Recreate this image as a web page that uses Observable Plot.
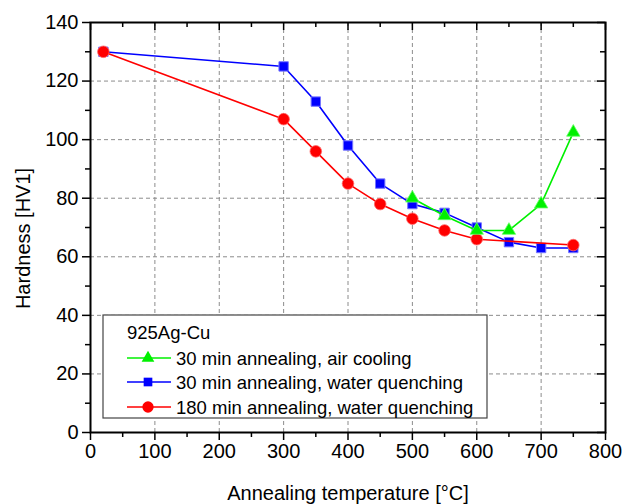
<!DOCTYPE html>
<html>
<head>
<meta charset="utf-8">
<script src="https://cdn.jsdelivr.net/npm/d3@7"></script>
<script src="https://cdn.jsdelivr.net/npm/@observablehq/plot@0.6"></script>
<style>
  html, body { margin: 0; padding: 0; background: white; }
  #chart { width: 625px; height: 504px; }
</style>
</head>
<body>
<div id="chart"></div>
<script>
// ---- data ----
const blueX = [20, 300, 350, 400, 450, 500, 550, 600, 650, 700, 750];
const blueY = [130, 125, 113, 98, 85, 78, 75, 70, 65, 63, 63];
const redX = [20, 300, 350, 400, 450, 500, 550, 600, 750];
const redY = [130, 107, 96, 85, 78, 73, 69, 66, 64];
const greenX = [500, 550, 600, 650, 700, 750];
const greenY = [80, 74, 69, 69, 78, 102.5];

const seriesNames = [
  "30 min annealing, air cooling",
  "30 min annealing, water quenching",
  "180 min annealing, water quenching"
];
const legendTitle = "925Ag-Cu";
const xTitle = "Annealing temperature [°C]";
const yTitle = "Hardness [HV1]";

const xMajor = [0, 100, 200, 300, 400, 500, 600, 700, 800];
const xMinor = [50, 150, 250, 350, 450, 550, 650, 750];
const yMajor = [0, 20, 40, 60, 80, 100, 120, 140];
const yMinor = [10, 30, 50, 70, 90, 110, 130];
const xGrid = [100, 200, 300, 400, 500, 600, 700];
const yGrid = [20, 40, 60, 80, 100, 120];

const toRows = (xs, ys) => xs.map((x, i) => ({x, y: ys[i]}));
const blue = toRows(blueX, blueY);
const red = toRows(redX, redY);
const green = toRows(greenX, greenY);

const W = 625, H = 504, mL = 90, mR = 20, mT = 22, mB = 72;
const fw = W - mL - mR, fh = H - mT - mB;

const GREEN = "#00f000", BLUE = "#0000ff", RED = "#ff0000";
const font = "'Liberation Sans', Arial, sans-serif";

const svg = Plot.plot({
  width: W, height: H,
  marginLeft: mL, marginRight: mR, marginTop: mT, marginBottom: mB,
  x: {domain: [0, 800]},
  y: {domain: [0, 140]},
  style: {fontFamily: font, fontSize: "20px", background: "white", color: "black"},
  marks: [
    Plot.gridX(xGrid, {stroke: "#8c8c8c", strokeOpacity: 1, strokeDasharray: "4,3", strokeWidth: 1}),
    Plot.gridY(yGrid, {stroke: "#8c8c8c", strokeOpacity: 1, strokeDasharray: "4,3", strokeWidth: 1}),
    // bottom / left axes (outward ticks)
    Plot.axisX(xMajor, {tickSize: 8, tickPadding: 3, fontSize: 20, label: null, strokeWidth: 1.5}),
    Plot.axisX(xMinor, {tickSize: 5, tickFormat: () => "", label: null, strokeWidth: 1.5}),
    Plot.axisY(yMajor, {tickSize: 8, tickPadding: 4, fontSize: 20, label: null, strokeWidth: 1.5}),
    Plot.axisY(yMinor, {tickSize: 5, tickFormat: () => "", label: null, strokeWidth: 1.5}),
    // top / right mirrored ticks (inward)
    Plot.tickX(xMajor, {x: d => d, insetBottom: fh - 8, stroke: "black", strokeWidth: 1.5}),
    Plot.tickX(xMinor, {x: d => d, insetBottom: fh - 5, stroke: "black", strokeWidth: 1.5}),
    Plot.tickY(yMajor, {y: d => d, insetLeft: fw - 8, stroke: "black", strokeWidth: 1.5}),
    Plot.tickY(yMinor, {y: d => d, insetLeft: fw - 5, stroke: "black", strokeWidth: 1.5}),
    // series
    Plot.line(blue, {x: "x", y: "y", stroke: BLUE, strokeWidth: 1.6}),
    Plot.dot(blue, {x: "x", y: "y", symbol: "square", r: 5.3, fill: BLUE, stroke: "#7777ff", strokeWidth: 1}),
    Plot.line(red, {x: "x", y: "y", stroke: RED, strokeWidth: 1.6}),
    Plot.dot(red, {x: "x", y: "y", r: 5.8, fill: RED, stroke: "#ff6666", strokeWidth: 0.8}),
    Plot.line(green, {x: "x", y: "y", stroke: GREEN, strokeWidth: 1.6}),
    Plot.dot(green, {x: "x", y: "y", symbol: "triangle", r: 5.0, fill: GREEN, stroke: "#66ff66", strokeWidth: 0.8}),
    Plot.frame({stroke: "black", strokeWidth: 2}),
    // axis titles
    Plot.text([xTitle], {frameAnchor: "bottom", dy: 61, fontSize: 20, lineAnchor: "middle", textAnchor: "middle", fill: "black"}),
    Plot.text([yTitle], {frameAnchor: "left", dx: -67, dy: 11, rotate: -90, fontSize: 20, lineAnchor: "middle", textAnchor: "middle", fill: "black"})
  ]
});

// ---- legend (inside the plot area) ----
const g = d3.select(svg).append("g")
  .attr("font-family", font).attr("font-size", 18.5).attr("text-anchor", "start");
g.append("rect").attr("x", 103).attr("y", 315).attr("width", 384).attr("height", 103)
  .attr("fill", "white").attr("stroke", "#444").attr("stroke-width", 1.2);
g.append("text").attr("x", 127).attr("y", 339).text(legendTitle).attr("fill", "black");
const items = [
  {name: seriesNames[0], color: GREEN, sym: d3.symbolTriangle, size: 70, y: 358},
  {name: seriesNames[1], color: BLUE, sym: d3.symbolSquare, size: 75, y: 382},
  {name: seriesNames[2], color: RED, sym: d3.symbolCircle, size: 100, y: 407}
];
items.forEach(it => {
  g.append("line").attr("x1", 127).attr("x2", 171).attr("y1", it.y).attr("y2", it.y)
    .attr("stroke", it.color).attr("stroke-width", 1.6);
  g.append("path").attr("d", d3.symbol(it.sym, it.size)()).attr("transform", `translate(148,${it.y})`)
    .attr("fill", it.color);
  g.append("text").attr("x", 176).attr("y", it.y + 7).text(it.name).attr("fill", "black");
});

document.getElementById("chart").appendChild(svg);
</script>
</body>
</html>
